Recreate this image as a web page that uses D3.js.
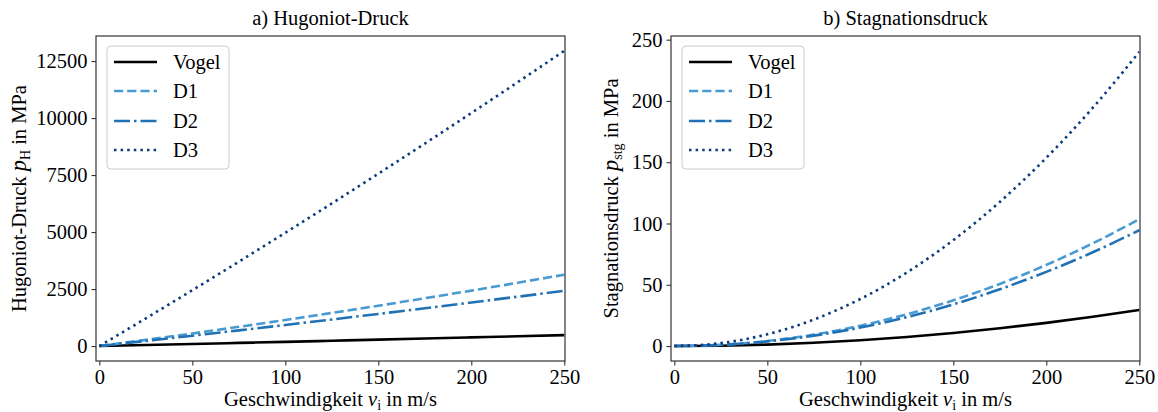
<!DOCTYPE html>
<html><head><meta charset="utf-8">
<script src="https://cdn.jsdelivr.net/npm/d3@7"></script>
<style>
body{margin:0;background:#fff;}
svg text{font-family:"Liberation Serif","Times New Roman",serif;fill:#000;}
</style></head>
<body><svg id="c" width="1158" height="412"></svg>
<script>
const velocity = [0, 25, 50, 75, 100, 125, 150, 175, 200, 225, 250];
const seriesNames = ["Vogel", "D1", "D2", "D3"];
// a) Hugoniot pressure in MPa
const hugVogel = [0, 45, 91, 138, 185, 233, 281, 330, 380, 430, 481];
const hugD1 = [0, 272, 554, 845, 1144, 1452, 1770, 2097, 2432, 2777, 3130];
const hugD2 = [0, 226, 455, 688, 925, 1166, 1410, 1658, 1910, 2166, 2425];
const hugD3 = [0, 1216, 2450, 3701, 4970, 6256, 7560, 8881, 10220, 11576, 12950];
// b) Stagnation pressure in MPa
const stgVogel = [0, 0.3, 1.2, 2.7, 4.7, 7.4, 10.6, 14.5, 18.9, 23.9, 29.5];
const stgD1 = [0, 1.0, 4.1, 9.3, 16.6, 25.9, 37.3, 50.7, 66.2, 83.8, 103.5];
const stgD2 = [0, 0.9, 3.8, 8.5, 15.1, 23.6, 34.0, 46.3, 60.5, 76.5, 94.5];
const stgD3 = [0, 2.4, 9.6, 21.6, 38.4, 60.0, 86.4, 117.6, 153.6, 194.4, 240];
const xTicks = [0, 50, 100, 150, 200, 250];
const yTicksA = [0, 2500, 5000, 7500, 10000, 12500];
const yTicksB = [0, 50, 100, 150, 200, 250];

const styles = [
  {color:"#000000", dash:null},
  {color:"#4a9ad2", dash:"9.2,4"},
  {color:"#2171b5", dash:"16,4,2.5,4"},
  {color:"#0d3a7e", dash:"2.5,4.1"}
];

const svg = d3.select("#c");
const plotTop = 36, plotBottom = 361;
const FS = 20.5;

function panel(opt){
  const x = d3.scaleLinear().domain([-1.8, 250.4]).range([opt.left, opt.right]);
  const y = d3.scaleLinear().domain(opt.ydom).range([plotBottom, plotTop]);
  const g = svg.append("g");
  const line = d3.line().x((d,i)=>x(velocity[i])).y(d=>y(d)).curve(d3.curveMonotoneX);
  opt.series.forEach((s,k)=>{
    g.append("path").attr("d", line(s)).attr("fill","none")
      .attr("stroke", styles[k].color).attr("stroke-width", 2.6)
      .attr("stroke-dasharray", styles[k].dash);
  });
  g.append("rect").attr("x", opt.left).attr("y", plotTop).attr("width", opt.right-opt.left)
    .attr("height", plotBottom-plotTop).attr("fill","none").attr("stroke","#333").attr("stroke-width",1.2);
  const xa = d3.axisBottom(x).tickValues(xTicks).tickSize(4.5).tickPadding(4).tickFormat(d3.format("d"));
  const xg = g.append("g").attr("transform",`translate(0,${plotBottom})`).call(xa);
  const ya = d3.axisLeft(y).tickValues(opt.yticks).tickSize(4.5).tickPadding(4).tickFormat(d3.format("d"));
  const yg = g.append("g").attr("transform",`translate(${opt.left},0)`).call(ya);
  [xg,yg].forEach(a=>{
    a.select(".domain").remove();
    a.selectAll("line").attr("stroke","#333").attr("stroke-width",1.1);
    a.selectAll("text").attr("font-size",FS).attr("font-family",'"Liberation Serif",serif').attr("fill","#000");
  });
  g.append("text").attr("x",(opt.left+opt.right)/2).attr("y",25).attr("text-anchor","middle")
    .attr("font-size",FS).text(opt.title);
  const xl = g.append("text").attr("x",(opt.left+opt.right)/2).attr("y",406).attr("text-anchor","middle").attr("font-size",FS);
  xl.append("tspan").text("Geschwindigkeit ");
  xl.append("tspan").attr("font-style","italic").text("v");
  xl.append("tspan").attr("font-size",14).attr("dy",4).text("i");
  xl.append("tspan").attr("dy",-4).text(" in m/s");
  const yl = g.append("text").attr("transform",`translate(${opt.ylabX},${(plotTop+plotBottom)/2}) rotate(-90)`)
    .attr("text-anchor","middle").attr("font-size",FS);
  yl.append("tspan").text(opt.ylab + " ");
  yl.append("tspan").attr("font-style","italic").attr("font-size",22.5).text("p");
  yl.append("tspan").attr("font-size",14).attr("dy",4).text(opt.ysub);
  yl.append("tspan").attr("dy",-4).text(" in MPa");
  const lg = g.append("g");
  lg.append("rect").attr("x",opt.left+11).attr("y",46).attr("width",122).attr("height",123)
    .attr("rx",4).attr("fill","#fff").attr("fill-opacity",0.8).attr("stroke","#cccccc").attr("stroke-width",1);
  const rows = [62, 91, 121, 150];
  seriesNames.forEach((n,k)=>{
    lg.append("line").attr("x1",opt.left+18).attr("x2",opt.left+61).attr("y1",rows[k]).attr("y2",rows[k])
      .attr("stroke",styles[k].color).attr("stroke-width",2.6).attr("stroke-dasharray",styles[k].dash);
    lg.append("text").attr("x",opt.left+77).attr("y",rows[k]+7).attr("font-size",FS).text(n);
  });
}

panel({left:96, right:565, ydom:[-655, 13600], yticks:yTicksA,
  series:[hugVogel,hugD1,hugD2,hugD3], title:"a) Hugoniot-Druck",
  ylab:"Hugoniot-Druck", ysub:"H", ylabX:26});
panel({left:671, right:1140, ydom:[-12.2, 253], yticks:yTicksB,
  series:[stgVogel,stgD1,stgD2,stgD3], title:"b) Stagnationsdruck",
  ylab:"Stagnationsdruck", ysub:"stg", ylabX:618});
</script></body></html>
